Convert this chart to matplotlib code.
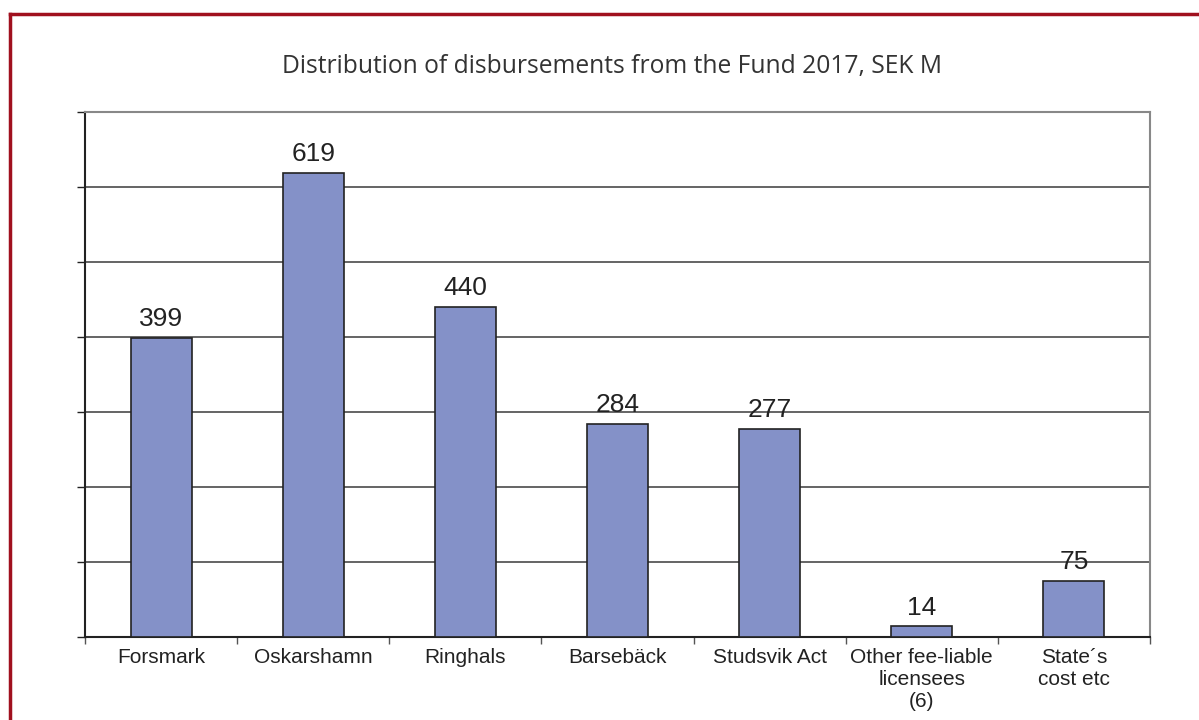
import matplotlib.pyplot as plt
from matplotlib.lines import Line2D

# Data
categories = ["Forsmark", "Oskarshamn", "Ringhals", "Barsebäck", "Studsvik Act",
              "Other fee-liable\nlicensees\n(6)", "State´s\ncost etc"]
values = [399, 619, 440, 284, 277, 14, 75]

# Style
bar_color = "#8491C8"
frame_red = "#A0101E"
grid_color = "#3a3a3a"

plt.rcParams["font.family"] = ["Liberation Sans", "DejaVu Sans"]

fig = plt.figure(figsize=(11.99, 7.2), dpi=100)
ax = fig.add_axes([0.0709, 0.1153, 0.8882, 0.7292])

x = list(range(len(categories)))
ax.bar(x, values, width=0.4, color=bar_color, edgecolor="#222222", linewidth=1.2, zorder=3)

for xi, v in zip(x, values):
    ax.annotate(str(v), (xi, v), xytext=(0, 5), textcoords="offset points",
                ha="center", va="bottom", fontsize=19, color="#222222")

ax.set_xlim(-0.5, len(categories) - 0.5)
ax.set_ylim(0, 700)
ax.set_yticks(range(0, 701, 100))
ax.set_yticklabels([])
ax.yaxis.grid(True, color=grid_color, linewidth=1.1, zorder=0)

# category ticks sit between bars
ax.set_xticks([i - 0.5 for i in range(len(categories) + 1)])
ax.set_xticklabels([])
ax.set_xticks(x, minor=True)
ax.set_xticklabels(categories, minor=True, fontsize=15, color="#222222", linespacing=1.2)
ax.tick_params(axis="x", which="minor", length=0, pad=8)
ax.tick_params(axis="x", which="major", length=5, width=1, color="#555555")
ax.tick_params(axis="y", length=6, width=1, color="#222222")

ax.spines["left"].set_color("#222222")
ax.spines["left"].set_linewidth(1.5)
ax.spines["bottom"].set_color("#222222")
ax.spines["bottom"].set_linewidth(1.5)
ax.spines["top"].set_color("#888888")
ax.spines["top"].set_linewidth(1.5)
ax.spines["right"].set_color("#888888")
ax.spines["right"].set_linewidth(1.5)

fig.text(612 / 1199, 1 - 67 / 720, "Distribution of disbursements from the Fund 2017, SEK M",
         ha="center", va="center", fontsize=17.7, color="#333333",
         family=["Open Sans", "DejaVu Sans"])

# red frame along top and left
fig.add_artist(Line2D([10 / 1199, 1.0], [1 - 14 / 720] * 2, color=frame_red, linewidth=2.5,
                      transform=fig.transFigure))
fig.add_artist(Line2D([10 / 1199] * 2, [0.0, 1 - 14 / 720], color=frame_red, linewidth=2.5,
                      transform=fig.transFigure))

fig.savefig("out.png", dpi=100)
